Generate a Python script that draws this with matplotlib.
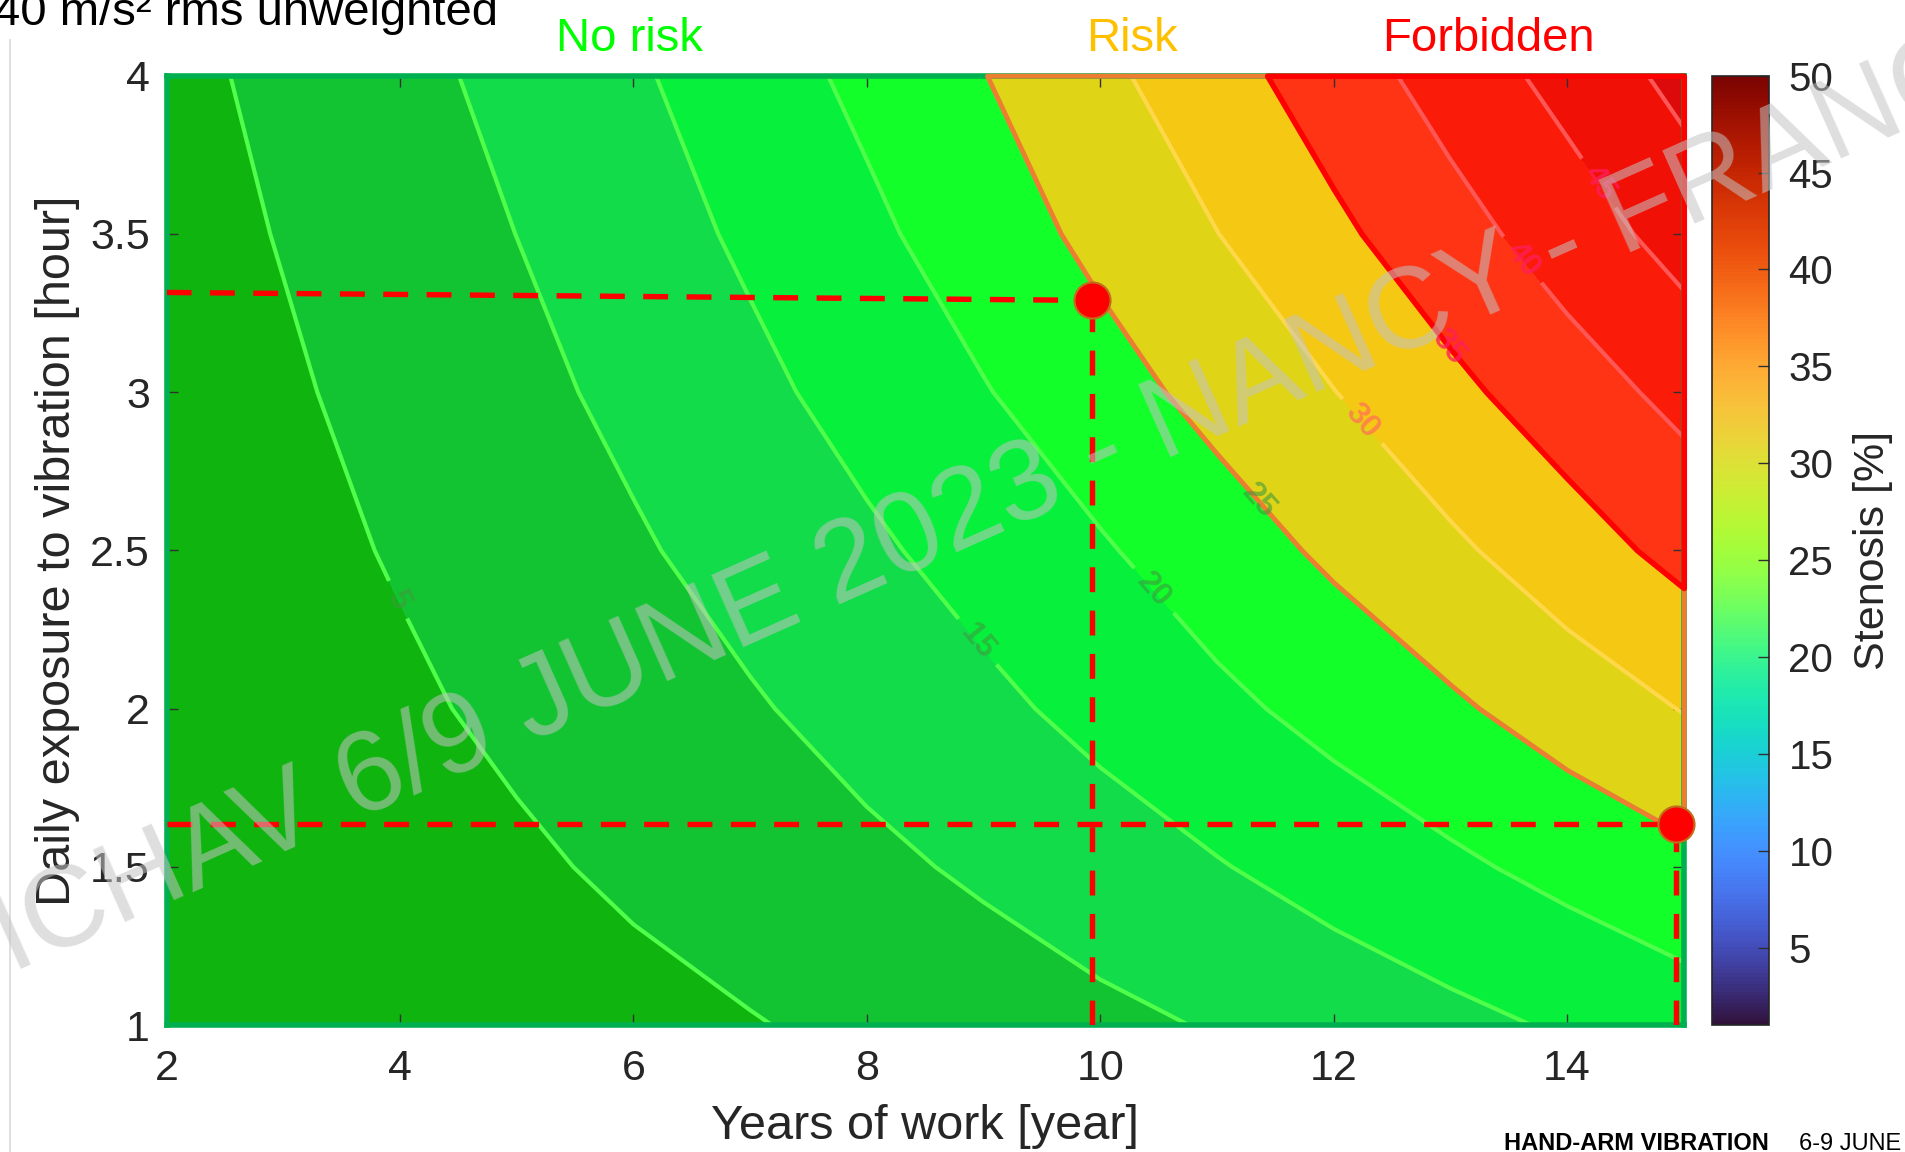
import numpy as np
import matplotlib
matplotlib.use('Agg')
import matplotlib.pyplot as plt
from matplotlib import cm, colors
from matplotlib.lines import Line2D

plt.rcParams['font.family'] = ['Liberation Sans', 'DejaVu Sans']

# grid: stenosis [%] at each (hour, year) node
years = [2, 3, 4, 5, 6, 7, 8, 9, 10, 11, 12, 13, 14, 15]
hours = [1.0, 1.5, 2.0, 2.5, 3.0, 3.5, 4.0]
stenosis = np.array([
    [-0.3, 0.6, 1.5, 2.5, 3.6, 4.75, 6.1, 7.5, 8.9, 10.35, 12.05, 13.76, 15.55, 17.55],
    [0.45, 1.6, 2.9, 4.25, 5.8, 7.4, 8.98, 10.72, 12.72, 14.72, 16.9, 19.1, 21.46, 23.7],
    [1.43, 2.74, 4.22, 5.97, 7.76, 9.55, 11.67, 13.93, 16.35, 18.89, 21.53, 24.26, 27.24, 30.2],
    [2.03, 3.56, 5.4, 7.42, 9.45, 11.77, 14.19, 16.8, 19.5, 22.65, 25.88, 29.13, 32.74, 36.5],
    [2.6, 4.37, 6.53, 8.72, 11.14, 13.86, 16.73, 19.72, 23.1, 26.5, 29.9, 33.8, 37.7, 41.4],
    [3.1, 5.24, 7.63, 10.03, 12.87, 15.8, 18.98, 22.54, 26.25, 29.93, 34.0, 38.17, 42.35, 47.0],
    [3.69, 6.09, 8.62, 11.35, 14.36, 17.67, 21.16, 24.88, 28.88, 33.1, 37.52, 42.05, 46.67, 51.47],
])

band_levels = [-5, 5, 10, 15, 20, 25, 30, 35, 40, 45, 50, 60]
band_colors = ['#0FB40F', '#13C432', '#13DC4B', '#07F03C', '#12FF2A',
               '#E0D416', '#F5C814', '#FF3414', '#FA1C08', '#F01006', '#DC0A0A']

# labelled contour lines
label_levels = [5, 15, 20, 25, 30, 35, 40, 45]
label_line_colors = ['#50FF4A', '#50FF4A', '#50FF4A', '#50FF4A',
                     '#FFD84A', '#FF5A5A', '#FF5656', '#FF5656']
label_pos = [(3.96, 2.34), (8.91, 2.20), (10.42, 2.36), (11.30, 2.64),
             (12.19, 2.89), (12.97, 3.14), (13.59, 3.41), (14.27, 3.66)]
label_colors = ['#3E9A3E', '#3E9A3E', '#3E9A3E', '#3E9A3E',
                '#FF7850', '#FF1E5A', '#FF1E5A', '#FF1E5A']
# unlabelled contour lines
plain_levels = [10, 50]
plain_colors = ['#50FF4A', '#FF5656']

# the two highlighted points and where their guides start on the left
pt_years = [9.93, 14.93]
pt_hours = [3.29, 1.634]
guide_left_hours = [3.315, 1.634]

xticks = [2, 4, 6, 8, 10, 12, 14]
yticks = [1, 1.5, 2, 2.5, 3, 3.5, 4]
ytick_labels = ['1', '1.5', '2', '2.5', '3', '3.5', '4']
cb_ticks = [5, 10, 15, 20, 25, 30, 35, 40, 45, 50]

fig = plt.figure(figsize=(19.06, 11.52), dpi=100)
ax = fig.add_axes([0.0874, 0.1102, 0.796, 0.8241])

T, H = np.meshgrid(years, hours)
ax.contourf(T, H, stenosis, levels=band_levels, colors=band_colors, zorder=1)
ax.contour(T, H, stenosis, levels=plain_levels, colors=plain_colors,
           linewidths=3.0, zorder=2)
cs = ax.contour(T, H, stenosis, levels=label_levels, colors=label_line_colors,
                linewidths=3.0, zorder=2)
texts = ax.clabel(cs, manual=label_pos, inline=True, inline_spacing=12,
                  fontsize=23, colors=label_colors)
for t in texts:
    t.set_fontweight('bold')
    t.set_alpha(0.6 if t.get_text() in ('5', '15', '20', '25') else 0.8)

# risk / forbidden outlines
risk = ax.contourf(T, H, stenosis, levels=[25, 35], colors='none', zorder=2.8)
risk.set_edgecolor('#ED7D31')
risk.set_linewidth(3.5)
risk.set_clip_on(False)
forb = ax.contourf(T, H, stenosis, levels=[35, 60], colors='none', zorder=2.9)
forb.set_edgecolor('#FF0000')
forb.set_linewidth(4)
forb.set_clip_on(False)

# dashed guides and points
dash = (0, (4.6, 3.4))
for x, y, y0 in zip(pt_years, pt_hours, guide_left_hours):
    ax.plot([years[0], x], [y0, y], color='#FF0000', ls=dash, lw=3.9, zorder=4)
    ax.plot([x, x], [hours[0], y], color='#FF0000', ls=dash, lw=3.9, zorder=4)
ax.plot(pt_years, pt_hours, 'o', ms=26, mfc='#FF0000', mec='#C0701A', mew=1.5,
        zorder=6, clip_on=False)

ax.set_xlim(2, 15)
ax.set_ylim(1, 4)
ax.set_xticks(xticks)
ax.set_yticks(yticks)
ax.set_yticklabels(ytick_labels)
ax.tick_params(direction='in', length=8, width=1, color='#303030',
               labelcolor='#262626', labelsize=31, top=True, right=True)
ax.tick_params(axis='x', pad=17)
ax.tick_params(axis='y', pad=12)
for s in ax.spines.values():
    s.set_color('#00B050')
    s.set_linewidth(4)
ax.set_xlabel('Years of work [year]', fontsize=35, labelpad=11, color='#262626')
ax.set_ylabel('Daily exposure to vibration [hour]', fontsize=35, labelpad=7,
              color='#262626')

# colorbar
cax = fig.add_axes([0.8982, 0.1102, 0.0299, 0.8241])
sm = cm.ScalarMappable(norm=colors.Normalize(1, 50), cmap='turbo')
cb = fig.colorbar(sm, cax=cax, ticks=cb_ticks)
cb.ax.tick_params(direction='in', length=8, width=1, labelsize=29, pad=14,
                  color='#303030', labelcolor='#262626')
cb.outline.set_edgecolor('#262626')
cb.outline.set_linewidth(1.2)
cb.set_label('Stenosis [%]', fontsize=31, labelpad=14, color='#262626')

# texts around the plot
fig.text(0.2615, 0.978, '40 m/s² rms unweighted', fontsize=34, ha='right',
         va='baseline', color='black')
fig.text(0.330, 0.956, 'No risk', fontsize=34, ha='center', va='baseline', color='#00FF00')
fig.text(0.594, 0.956, 'Risk', fontsize=34, ha='center', va='baseline', color='#FFC000')
fig.text(0.781, 0.956, 'Forbidden', fontsize=34, ha='center', va='baseline', color='#FF0000')
fig.text(0.789, 0.002, 'HAND-ARM VIBRATION', fontsize=17, fontweight='bold',
         ha='left', va='baseline', color='black')
fig.text(0.944, 0.002, '6-9 JUNE', fontsize=17, ha='left', va='baseline', color='black')

fig.add_artist(Line2D([0.005, 0.005], [0.0, 0.965], transform=fig.transFigure,
                      color='#D9D9D9', lw=1.2))

# watermark
fig.text(0.536, 0.574, 'ICHAV 6/9 JUNE 2023 - NANCY - FRANCE', fontsize=83,
         rotation=24, rotation_mode='anchor', ha='center', va='center',
         color='#C4C4C4', alpha=0.55, zorder=10)

fig.savefig('out.png', dpi=100)
